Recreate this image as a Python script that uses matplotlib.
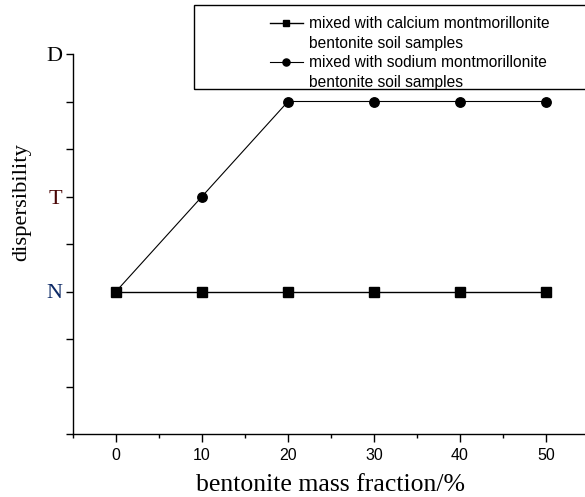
import matplotlib
matplotlib.use("Agg")
import matplotlib.pyplot as plt
from matplotlib.lines import Line2D
from matplotlib.patches import Rectangle

# ---- data ----
mass_fraction = [0, 10, 20, 30, 40, 50]
calcium_level = [0, 0, 0, 0, 0, 0]      # N
sodium_level = [0, 2, 4, 4, 4, 4]       # N -> T -> above T
y_tick_values = [-3, -2, -1, 0, 1, 2, 3, 4, 5]
y_tick_labels = ['', '', '', 'N', '', 'T', '', '', 'D']
y_label_colors = {'N': '#0d2a66', 'T': '#4a0606', 'D': '#000000'}
x_major_ticks = [0, 10, 20, 30, 40, 50]
x_minor_ticks = [-5, 5, 15, 25, 35, 45, 55]
label_calcium = ['mixed with calcium montmorillonite', 'bentonite soil samples']
label_sodium = ['mixed with sodium montmorillonite', 'bentonite soil samples']

W, H = 585, 497
fig = plt.figure(figsize=(W / 100, H / 100), dpi=100)
ax_left, ax_right, ax_top, ax_bottom = 73, 589, 54, 434
ax = fig.add_axes([ax_left / W, 1 - ax_bottom / H, (ax_right - ax_left) / W, (ax_bottom - ax_top) / H])

l1, = ax.plot(mass_fraction, calcium_level, color='black', lw=1.0, marker='s', ms=6.5, clip_on=False)
l2, = ax.plot(mass_fraction, sodium_level, color='black', lw=0.8, marker='o', ms=6.8, clip_on=False)

ax.set_xlim(-5, 55)
ax.set_ylim(-3, 5)
for s in ['top', 'right']:
    ax.spines[s].set_visible(False)
for s in ['left', 'bottom']:
    ax.spines[s].set_linewidth(1.0)

ax.set_xticks(x_major_ticks)
ax.set_xticks(x_minor_ticks, minor=True)
ax.set_xticklabels([str(v) for v in x_major_ticks], fontsize=11.5, family='Liberation Sans')
ax.tick_params(axis='x', which='major', length=6, width=1, pad=4, direction='out')
ax.tick_params(axis='x', which='minor', length=3, width=1, direction='out')

ax.set_yticks(y_tick_values)
ax.set_yticklabels(y_tick_labels, fontsize=16, family='Liberation Serif')
ax.tick_params(axis='y', which='major', length=5, width=1, pad=3, direction='out')
for t in ax.get_yticklabels():
    t.set_color(y_label_colors.get(t.get_text(), 'black'))

ax.set_xlabel('bentonite mass fraction/%', fontsize=18.5, family='Liberation Serif')
ax.xaxis.set_label_coords(0.5, -(485 - ax_bottom) / (ax_bottom - ax_top))
ax.xaxis.label.set_va('center')
ax.set_ylabel('dispersibility', fontsize=16.2, family='Liberation Serif')
ax.yaxis.set_label_coords(-(ax_left - 22) / (ax_right - ax_left), (ax_bottom - 202) / (ax_bottom - ax_top))
ax.yaxis.label.set_va('center')

# legend frame
fig.patches.append(Rectangle((194 / W, 1 - 89 / H), (620 - 194) / W, (89 - 5) / H,
                             transform=fig.transFigure, fill=False, edgecolor='black', lw=1.0))
blank = Line2D([], [], linestyle='none', marker='none')
handles = [l1, blank, l2, blank]
labels = [label_calcium[0], label_calcium[1], label_sodium[0], label_sodium[1]]
leg = fig.legend(handles, labels, loc='upper left', bbox_to_anchor=(270 / W, 1 - 16 / H),
                 frameon=False, prop={'family': 'Liberation Sans', 'size': 11.2},
                 handlelength=2.1, handletextpad=0.38, borderpad=0, labelspacing=0.3,
                 borderaxespad=0, markerscale=0.75)

fig.savefig('out.png', dpi=100)
